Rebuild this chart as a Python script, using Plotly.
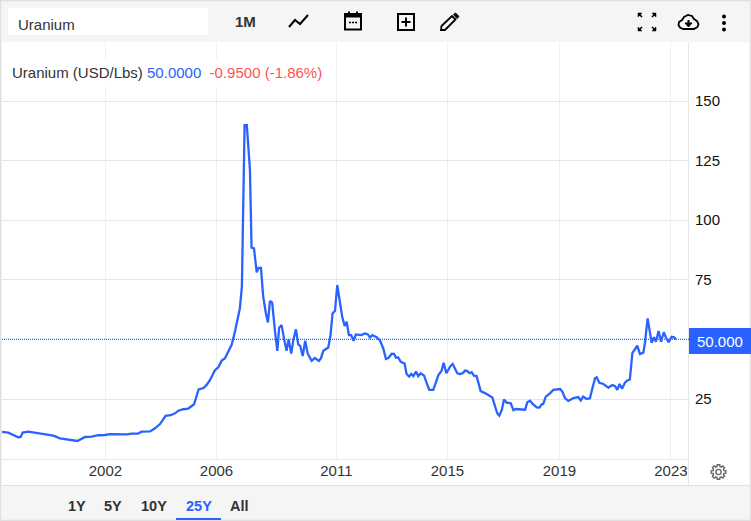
import math
import plotly.graph_objects as go

W, H = 751, 521
FONT = "Liberation Sans, Arial, sans-serif"
BLUE = "#2962ff"
RED = "#ff5252"

# months since the start of the window, and uranium price in USD/Lbs
month_index = [0, 2.8, 5, 7.3, 8.3, 9.2, 11.7, 14, 17.7, 22.9, 25.8, 28.8, 31.8, 33.6, 37, 40, 42.9, 45.9, 48.1,
               55.6, 57.8, 60.7, 62.2, 66, 68.2, 70.4, 72.9, 75.2, 77.1, 78.6, 80.8, 83, 85.6, 86.8, 87.6, 89.8,
               91.2, 92.7, 94.9, 96.4, 97.9, 99.3, 100.8, 102.3, 103.8, 105.3, 106, 106.9, 108.1, 109.1, 110.5,
               111.2, 112.3, 113.5, 114.3, 115.4, 116.4, 117.6, 118.5, 119.4, 120.4, 121.6, 122.7, 123.5, 124.6,
               125.8, 126.8, 127.7, 128.9, 129.8, 131, 132, 132.9, 134, 135.1, 136.2, 138, 139.4, 141.2, 142.1,
               143.2, 145.4, 146.4, 147.3, 148.4, 149.4, 150.3, 151.6, 152.7, 153.6, 154.6, 155.6, 156.7, 157.7,
               160.1, 161.7, 162.9, 164, 165, 167, 168.5, 169.9, 171.1, 172.3, 173.7, 174.7, 175.6, 176.5, 177.7,
               179.4, 180.3, 181.4, 182.4, 183.3, 184.5, 185.5, 186.6, 188.1, 189.3, 190.4, 192.2, 193, 194.5,
               195.9, 196.8, 198, 199.7, 200.8, 202.9, 204.1, 205.3, 206.3, 207.4, 208.3, 209.3, 210.3, 211.5,
               213.3, 216, 218.5, 219.7, 220.7, 221.6, 222.7, 223.7, 224.9, 226.7, 227.9, 228.9, 233.1, 234.1,
               235.3, 236.5, 238.3, 239.5, 240.5, 241.2, 242.3, 244.2, 245.7, 248.7, 249.7, 250.9, 252.4, 254.6,
               256.8, 257.9, 259, 260.5, 262, 263.1, 264.3, 265, 266.2, 268, 270.2, 272, 273.2, 274.2, 275.2,
               276.3, 277.6, 278.7, 279.8, 280.9, 282.1, 283.1, 284.3, 285.8, 286.5, 287.7, 289.5, 290.5, 291.4,
               292.6, 293.7, 294.9, 295.9, 297.1, 298.4, 299.5, 300.3]
price = [11.2, 10.9, 9.9, 8.9, 9.06, 10.9, 11.3, 10.9, 10.2, 9.6, 8.5, 8.0, 7.4, 7.4, 9.06, 9.2, 9.8, 9.9, 10.3,
         10.2, 10.5, 10.5, 11.3, 11.4, 12.7, 14.5, 17.9, 18.2, 19, 20.1, 20.7, 21, 22.8, 26, 29, 29.6,
         30.9, 33, 37.1, 38.3, 41.1, 42, 44.8, 47.6, 53.2, 60.2, 63, 72.1, 139.9, 139.9, 121,
         88.5, 88.2, 78.1, 80, 80, 67.9, 60.9, 57.1, 66.1, 65.4, 53.9, 45.2, 54.9, 56,
         49.7, 45.2, 50, 44.1, 49.7, 54.2, 47.9, 47.3, 43, 49.4, 44.1, 41, 42.2, 41, 42,
         45.2, 46.6, 51.8, 60.9, 62, 72.8, 67.9, 59.5, 55.6, 57.4, 51.8, 51.8, 49.4, 52.1,
         51.8, 52.5, 52.2, 50.8, 51.8, 50.9, 49.5, 46.2, 41.8, 42.3, 44, 43.9, 42.3, 42.5, 40.6,
         39.9, 35.5, 34.4, 35.5, 34.6, 36.5, 34.6, 35.8, 34.8, 31.6, 28.8, 28.8, 30.9, 35.1,
         36.9, 40.2, 35.8, 38.6, 39.7, 35.8, 35.5, 35.8, 36.9, 36.7, 35.8, 36.2, 34.8, 34.6,
         28.3, 27.1, 25.6, 21.8, 19, 18, 20.3, 24.8, 23.5, 23.2, 20.3, 20.8, 20.5, 23.6,
         24.3, 22.9, 21.5, 21.4, 22.8, 22.9, 26, 27.4, 28.8, 29.2, 28.1, 25.3, 24.2, 25.4,
         25.8, 24.4, 26, 25, 25.3, 29.5, 33.7, 34.1, 31.8, 31.3, 29.8, 30.9, 30.4, 28.8, 31.3,
         29.3, 31.8, 32.8, 33.2, 44.2, 46.3, 47.4, 43.9, 44.4, 48.4, 58.8, 48.6, 50.9, 49,
         53.5, 49, 53, 50.7, 48.8, 51.1, 50.9, 50]

x_tick_pos = [46.1, 95.6, 149, 198.5, 248.4, 298.1]
x_tick_labels = ["2002", "2006", "2011", "2015", "2019", "2023"]
y_ticks = [25, 75, 100, 125, 150]
last_price = 50
range_buttons = ["1Y", "5Y", "10Y", "25Y", "All"]


def px(x):
    return x / W


def py(y):
    return 1 - y / H


def rect(x0, y0, x1, y1, fill, line=None, width=0):
    return dict(type="rect", xref="paper", yref="paper", x0=px(x0), x1=px(x1), y0=py(y0), y1=py(y1),
                fillcolor=fill, line=dict(color=line or fill, width=width), layer="below")


def path(points, color="#000", width=2, fill=None, close=False):
    d = "M" + " L".join(f"{px(a):.5f},{py(b):.5f}" for a, b in points) + (" Z" if close else "")
    return dict(type="path", xref="paper", yref="paper", path=d, fillcolor=fill or "rgba(0,0,0,0)",
                line=dict(color=color, width=width), layer="above")


def circle(cx, cy, r, color="#000", fill=None, width=0):
    return dict(type="circle", xref="paper", yref="paper", x0=px(cx - r), x1=px(cx + r), y0=py(cy + r), y1=py(cy - r),
                fillcolor=fill or "rgba(0,0,0,0)", line=dict(color=color, width=width))


def text(x, y, s, color="#333", size=15, bold=False, anchor="left", bg=None, pad=0):
    return dict(xref="paper", yref="paper", x=px(x), y=py(y), text=f"<b>{s}</b>" if bold else s, showarrow=False,
                xanchor=anchor, yanchor="middle", font=dict(family=FONT, size=size, color=color),
                bgcolor=bg, borderpad=pad)


fig = go.Figure(go.Scatter(x=month_index, y=price, mode="lines", line=dict(color=BLUE, width=2.3), hoverinfo="skip"))

shapes = [
    rect(2, 2, 750, 42, "#f5f5f5"),
    rect(2, 485.5, 750, 520, "#f5f5f5"),
    rect(8, 8, 208, 35, "#ffffff"),
    rect(0, 0, 751, 1.5, "#e0e0e0"),
    rect(0, 0, 1.5, 521, "#e0e0e0"),
    rect(0, 519.8, 751, 521, "#e0e0e0"),
    rect(749.8, 0, 751, 521, "#e0e0e0"),
    rect(2, 485, 750, 486, "#e0e0e0"),
    rect(688, 42, 689, 485, "#e6e6e6"),
    rect(176, 518, 221, 520, BLUE),
    dict(type="line", xref="paper", yref="y", x0=px(2), x1=px(689), y0=last_price, y1=last_price,
         line=dict(color=BLUE, width=1.2, dash="1px,1px"), layer="above"),
    rect(689, 328, 751, 354, BLUE),
    # trend icon
    path([(289, 27), (295, 20), (300, 24), (308, 15)], width=2),
    # calendar icon
    dict(type="rect", xref="paper", yref="paper", x0=px(345), x1=px(361), y0=py(29.5), y1=py(14),
         line=dict(color="#000", width=2), fillcolor="rgba(0,0,0,0)"),
    rect(345, 14, 361, 17.5, "#000"),
    path([(349, 11.5), (349, 15)], width=2), path([(357, 11.5), (357, 15)], width=2),
    path([(349, 22.5), (351, 22.5)], width=1.5), path([(352, 22.5), (354, 22.5)], width=1.5),
    path([(355, 22.5), (357, 22.5)], width=1.5),
    # add icon
    dict(type="rect", xref="paper", yref="paper", x0=px(398), x1=px(414), y0=py(30), y1=py(14),
         line=dict(color="#000", width=2), fillcolor="rgba(0,0,0,0)"),
    path([(401.5, 22), (410.5, 22)], width=2), path([(406, 17.5), (406, 26.5)], width=2),
    # pencil icon
    path([(441, 30), (441.5, 26), (452, 16), (455.5, 19.5), (445, 30)], width=1.8, close=True),
    path([(453.5, 14.5), (455.5, 13), (459, 16.5), (457, 18.5)], fill="#000", width=1, close=True),
    # cloud icon
    path([(683, 29), (680, 27.5), (678.5, 25), (679, 22), (682, 20), (684, 17), (688, 15), (692, 16), (694, 19),
          (697, 21), (698.5, 24), (697.5, 27), (694, 29)], width=1.8, close=True),
    path([(688.5, 20), (688.5, 24)], width=2),
    path([(685, 23), (692, 23), (688.5, 27)], fill="#000", width=1, close=True),
    # dots icon
    circle(724, 16.5, 2, fill="#000"), circle(724, 23, 2, fill="#000"), circle(724, 29.5, 2, fill="#000"),
]

# expand icon
for cx, cy, sx, sy in [(643, 18, -1, -1), (651, 18, 1, -1), (643, 26, -1, 1), (651, 26, 1, 1)]:
    shapes += [
        path([(cx + 5 * sx, cy + 5 * sy), (cx + 1 * sx, cy + 5 * sy), (cx + 5 * sx, cy + 1 * sy)],
             fill="#000", width=0.5, close=True),
        path([(cx + 1 * sx, cy + 1 * sy), (cx + 3.5 * sx, cy + 3.5 * sy)], width=1.6),
    ]

# gear icon
gear = []
for i in range(8):
    a = i * math.pi / 4
    for da, r in [(-0.27, 5.6), (-0.17, 7.4), (0.17, 7.4), (0.27, 5.6)]:
        gear.append((718.5 + r * math.cos(a + da), 472 + r * math.sin(a + da)))
shapes.append(path(gear, color="#666", width=1.4, close=True))
shapes.append(circle(718.5, 472, 2.6, color="#666", width=1.4))

legend_text = (f"Uranium (USD/Lbs) <span style='color:{BLUE}'>50.0000</span>"
               f"&nbsp;&nbsp;<span style='color:{RED}'>-0.9500 (-1.86%)</span>")

annotations = [
    text(17, 24.5, "Uranium"),
    text(245, 22, "1M", bold=True, anchor="center"),
    text(6, 72.5, legend_text, color="#333", bg="#ffffff", pad=5),
    text(719.5, 341.5, "50.000", color="#ffffff", anchor="center"),
]
for label, cx in zip(range_buttons, [77, 113, 153.5, 198.5, 239]):
    annotations.append(text(cx, 505.5, label, color=BLUE if label == "25Y" else "#333", size=14.5, bold=True,
                            anchor="center"))

fig.update_layout(
    width=W, height=H, margin=dict(l=0, r=0, t=0, b=0), paper_bgcolor="#ffffff", plot_bgcolor="#ffffff",
    showlegend=False, font=dict(family=FONT, size=15, color="#333"), shapes=shapes, annotations=annotations,
    xaxis=dict(domain=[2 / W, 688 / W], range=[0, 305.7], tickmode="array", tickvals=x_tick_pos,
               ticktext=x_tick_labels, showgrid=True, gridcolor="#edf1f6", gridwidth=1, zeroline=False,
               showline=True, linecolor="#e6e6e6", linewidth=1, ticks="", ticklabelstandoff=-2,
               tickfont=dict(family=FONT, size=15, color="#333")),
    yaxis=dict(domain=[1 - 458.6 / H, 1 - 42 / H], range=[0, 174.75], side="right", tickmode="array",
               tickvals=y_ticks, showgrid=True, gridcolor="#e6e6e6", gridwidth=1, zeroline=False, showline=False,
               ticks="", ticklabelstandoff=6, tickfont=dict(family=FONT, size=15, color="#111")),
)

fig.write_html("out.html", config=dict(displayModeBar=False),
               post_script="document.body.style.margin='0';document.body.style.overflow='hidden';")
